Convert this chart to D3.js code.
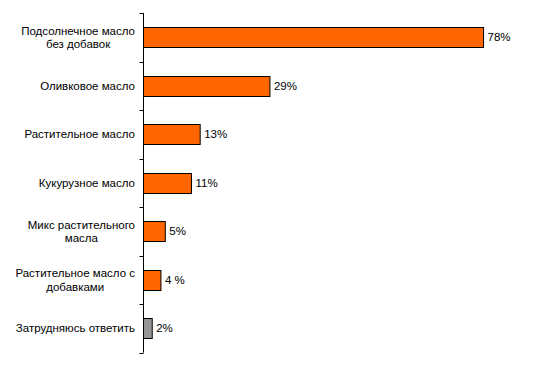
<!DOCTYPE html>
<html>
<head>
<meta charset="utf-8">
<script src="https://cdn.jsdelivr.net/npm/d3@7"></script>
<style>
  body { margin: 0; background: #fff; }
  text { font-family: "Liberation Sans", Arial, sans-serif; fill: #000; }
</style>
</head>
<body>
<script>
var svgWidth = 551;
var svgHeight = 366;

var categories = [
    ["Подсолнечное масло", "без добавок"],
    ["Оливковое масло"],
    ["Растительное масло"],
    ["Кукурузное масло"],
    ["Микс растительного", "масла"],
    ["Растительное масло с", "добавками"],
    ["Затрудняюсь ответить"]
];
var values = [78, 29, 13, 11, 5, 4, 2];
var valueLabels = ["78%", "29%", "13%", "11%", "5%", "4 %", "2%"];
var barColors = ["#FF6600", "#FF6600", "#FF6600", "#FF6600", "#FF6600", "#FF6600", "#969696"];

var axisX = 143.5;

var y = d3.scaleBand()
    .domain(d3.range(categories.length))
    .range([13, 352.7])
    .paddingInner(0.585)
    .paddingOuter(0.2925);

var x = d3.scaleLinear()
    .domain([0, 90])
    .range([axisX, axisX + 90 * 4.36]);

var svg = d3.select("body")
    .append("svg")
    .attr("width", svgWidth)
    .attr("height", svgHeight);

// bars
svg.selectAll(".bar")
    .data(values).enter()
    .append("rect")
    .attr("x", x(0))
    .attr("y", (d, i) => Math.round(y(i)) + 0.5)
    .attr("width", d => x(d) - x(0))
    .attr("height", Math.round(y.bandwidth()))
    .attr("fill", (d, i) => barColors[i])
    .attr("stroke", "#000")
    .attr("stroke-width", 1);

// value labels
svg.selectAll(".val")
    .data(values).enter()
    .append("text")
    .attr("x", d => x(d) + 4)
    .attr("y", (d, i) => y(i) + y.bandwidth() / 2)
    .attr("dy", "0.35em")
    .style("font-size", "11.5px")
    .text((d, i) => valueLabels[i]);

// category axis line and ticks
var step = y.step();
svg.append("line")
    .attr("x1", axisX).attr("x2", axisX)
    .attr("y1", 13).attr("y2", 352.7)
    .attr("stroke", "#000");

svg.selectAll(".tick")
    .data(d3.range(categories.length + 1)).enter()
    .append("line")
    .attr("x1", axisX - 4).attr("x2", axisX)
    .attr("y1", i => Math.round(13 + i * step) + 0.5)
    .attr("y2", i => Math.round(13 + i * step) + 0.5)
    .attr("stroke", "#000");

// category labels: block right-aligned at labelRight, lines centred inside block
var lineH = 13.5;
var labelRight = 135;
var catLabels = svg.selectAll(".cat")
    .data(categories).enter()
    .append("text")
    .attr("text-anchor", "middle")
    .style("font-size", "11.5px")
    .attr("transform", (d, i) => "translate(0," + (y(i) + y.bandwidth() / 2) + ")");

catLabels.selectAll("tspan")
    .data(d => d.map((t, j) => ({ t: t, j: j, n: d.length }))).enter()
    .append("tspan")
    .attr("y", d => (d.j - (d.n - 1) / 2) * lineH)
    .attr("dy", "0.35em")
    .text(d => d.t);

catLabels.each(function () {
    var spans = d3.select(this).selectAll("tspan");
    var maxW = 0;
    spans.each(function () { maxW = Math.max(maxW, this.getComputedTextLength()); });
    spans.attr("x", labelRight - maxW / 2);
});
</script>
</body>
</html>
